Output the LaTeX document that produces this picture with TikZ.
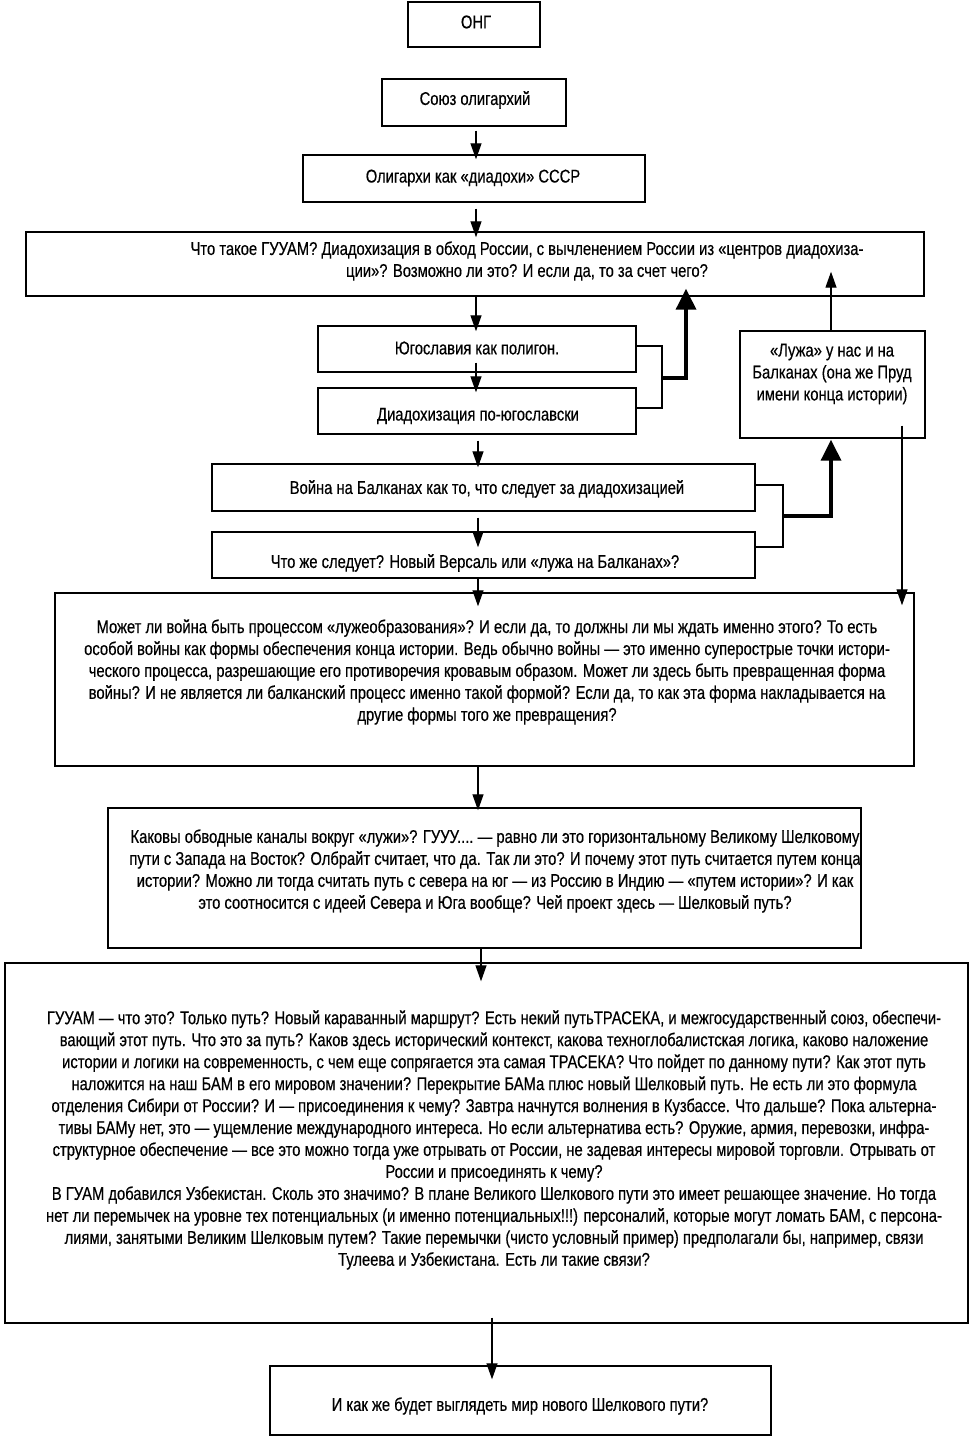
\documentclass[tikz,border=0pt]{standalone}
\usepackage{fontspec}
\setmainfont[FakeStretch=0.8,FakeBold=0.4]{Liberation Sans}
\usetikzlibrary{arrows.meta,fit,calc}

\begin{document}
\begin{tikzpicture}[x=0.02cm,y=-0.02cm,
    box/.style={draw,line width=0.8pt,inner sep=0pt,fit={#1}},
    txt/.style={font=\fontsize{10.5}{12.5}\selectfont,align=center,inner sep=0pt},
    arr/.style={-{Triangle[length=0.32cm,width=0.22cm]},line width=0.7pt},
    bigarr/.style={-{Triangle[length=0.42cm,width=0.4cm]},line width=2pt},
    link/.style={line width=0.7pt}]
    \useasboundingbox (0,0) rectangle (978,1439);

    % Top of the chain
    \node[box={(408,2) (540,47)}] (ong) {};
    \node[txt] (ongt) at (476,22) {ОНГ};
    \node[box={(382,79) (566,126)}] (soyuz) {};
    \node[txt] (soyuzt) at (475,100) {Союз олигархий};
    \node[box={(303,155) (645,202)}] (olig) {};
    \node[txt] (respt) at (473,178) {Олигархи как «диадохи» СССР};
    \node[box={(26,232) (924,296)}] (guuam) {};
    \node[txt] (guuamt) at (527,261) {Что такое ГУУАМ? Диадохизация в обход России, с вычленением России из «центров диадохиза-\\ции»? Возможно ли это? И если да, то за счет чего?};

    % Yugoslavia pair and the puddle box
    \node[box={(318,326) (636,372)}] (yug) {};
    \node[txt] (yugt) at (477,348) {Югославия как полигон.};
    \node[box={(318,388) (636,434)}] (diad) {};
    \node[txt] (diadt) at (478,416) {Диадохизация по-югославски};
    \node[box={(740,331) (925,438)}] (luzha) {};
    \node[txt] (luzhat) at (832,374) {«Лужа» у нас и на\\Балканах (она же Пруд\\имени конца истории)};

    % War pair
    \node[box={(212,464) (755,511)}] (voyna) {};
    \node[txt] (voynat) at (487,489) {Война на Балканах как то, что следует за диадохизацией};
    \node[box={(212,532) (755,578)}] (chto) {};
    \node[txt] (chtot) at (475,563) {Что же следует? Новый Версаль или «лужа на Балканах»?};

    % Big question boxes
    \node[box={(55,593) (914,766)}] (mozhet) {};
    \node[txt] (mozhett) at (487,672) {Может ли война быть процессом «лужеобразования»? И если да, то должны ли мы ждать именно этого? То есть\\особой войны как формы обеспечения конца истории. Ведь обычно войны~— это именно суперострые точки истори-\\ческого процесса, разрешающие его противоречия кровавым образом. Может ли здесь быть превращенная форма\\войны? И не является ли балканский процесс именно такой формой? Если да, то как эта форма накладывается на\\другие формы того же превращения?};
    \node[box={(108,808) (861,948)}] (kakovy) {};
    \node[txt] (kakovyt) at (495,871) {Каковы обводные каналы вокруг «лужи»? ГУУУ....~— равно ли это горизонтальному Великому Шелковому\\пути с Запада на Восток? Олбрайт считает, что да. Так ли это? И почему этот путь считается путем конца\\истории? Можно ли тогда считать путь с севера на юг~— из Россию в Индию~— «путем истории»? И как\\это соотносится с идеей Севера и Юга вообще? Чей проект здесь~— Шелковый путь?};
    \node[box={(5,963) (968,1323)}] (big) {};
    \node[txt] (bigt) at (494,1140) {ГУУАМ~— что это? Только путь? Новый караванный маршрут? Есть некий путьТРАСЕКА, и межгосударственный союз, обеспечи-\\вающий этот путь. Что это за путь? Каков здесь исторический контекст, какова техноглобалистская логика, каково наложение\\истории и логики на современность, с чем еще сопрягается эта самая ТРАСЕКА? Что пойдет по данному пути? Как этот путь\\наложится на наш БАМ в его мировом значении? Перекрытие БАМа плюс новый Шелковый путь. Не есть ли это формула\\отделения Сибири от России? И~— присоединения к чему? Завтра начнутся волнения в Кузбассе. Что дальше? Пока альтерна-\\тивы БАМу нет, это~— ущемление международного интереса. Но если альтернатива есть? Оружие, армия, перевозки, инфра-\\структурное обеспечение~— все это можно тогда уже отрывать от России, не задевая интересы мировой торговли. Отрывать от\\России и присоединять к чему?\\В ГУАМ добавился Узбекистан. Сколь это значимо? В плане Великого Шелкового пути это имеет решающее значение. Но тогда\\нет ли перемычек на уровне тех потенциальных (и именно потенциальных!!!) персоналий, которые могут ломать БАМ, с персона-\\лиями, занятыми Великим Шелковым путем? Такие перемычки (чисто условный пример) предполагали бы, например, связи\\Тулеева и Узбекистана. Есть ли такие связи?};
    \node[box={(270,1366) (771,1435)}] (final) {};
    \node[txt] (finalt) at (520,1406) {И как же будет выглядеть мир нового Шелкового пути?};

    % Columns of the arrows
    \coordinate (c1) at (476,0);
    \coordinate (c2) at (478,0);
    \coordinate (c3) at (481,0);
    \coordinate (c4) at (492,0);
    \coordinate (c5) at (831,0);
    \coordinate (c6) at (902,0);

    % Main chain
    \draw[arr] ($(soyuz.south -| c1)+(0,4)$) -- ($(olig.north -| c1)+(0,5)$);
    \draw[arr] ($(olig.south -| c1)+(0,6)$) -- ($(guuam.north -| c1)+(0,6)$);
    \draw[arr] (guuam.south -| c1) -- ($(yug.north -| c1)+(0,6)$);
    \draw[arr] ($(yug.south -| c1)+(0,-10)$) -- ($(diad.north -| c1)+(0,5)$);
    \draw[arr] ($(diad.south -| c2)+(0,6)$) -- ($(voyna.north -| c2)+(0,4)$);
    \draw[arr] ($(voyna.south -| c2)+(0,6)$) -- ($(chto.north -| c2)+(0,16)$);
    \draw[arr] (chto.south -| c2) -- ($(mozhet.north -| c2)+(0,14)$);
    \draw[arr] (mozhet.south -| c2) -- ($(kakovy.north -| c2)+(0,3)$);
    \draw[arr] (kakovy.south -| c3) -- ($(big.north -| c3)+(0,19)$);
    \draw[arr] ($(big.south -| c4)+(0,-6)$) -- ($(final.north -| c4)+(0,14)$);

    % Brackets with the thick arrows
    \coordinate (b1) at (662,346);
    \coordinate (b2) at (662,408);
    \coordinate (b3) at (662,378);
    \coordinate (k1) at (686,0);
    \draw[link] (yug.east |- b1) -- (b1) -- (b2) -- (diad.east |- b2);
    \draw[bigarr] (b3) -| ($(guuam.south -| k1)+(0,-8)$);
    \coordinate (b4) at (783,485);
    \coordinate (b5) at (783,547);
    \coordinate (b6) at (783,516);
    \draw[link] (voyna.east |- b4) -- (b4) -- (b5) -- (chto.east |- b5);
    \draw[bigarr] (b6) -| ($(luzha.south -| c5)+(0,1)$);

    % Thin arrows of the puddle box
    \draw[arr] (luzha.north -| c5) -- ($(guuam.south -| c5)+(0,-25)$);
    \draw[arr] ($(luzha.south -| c6)+(0,-13)$) -- ($(mozhet.north -| c6)+(0,13)$);
\end{tikzpicture}
\end{document}
